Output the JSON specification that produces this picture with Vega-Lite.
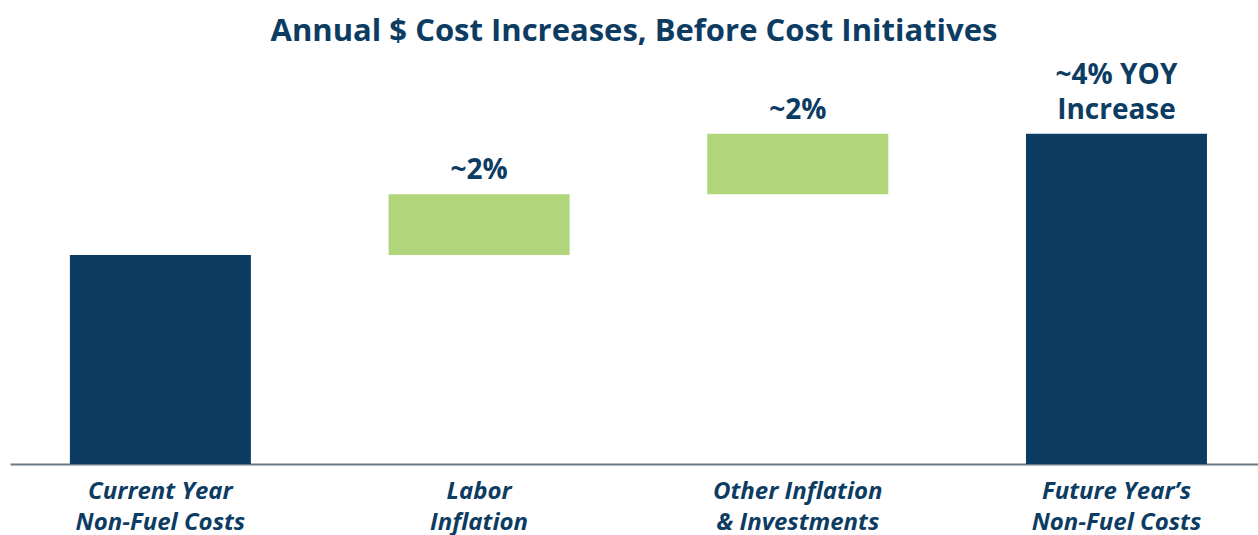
{
  "$schema": "https://vega.github.io/schema/vega-lite/v6.json",
  "width": 1248,
  "height": 414,
  "autosize": "none",
  "padding": {"left": 10, "top": 50, "right": 0, "bottom": 71},
  "background": "white",
  "title": {
    "text": "Annual $ Cost Increases, Before Cost Initiatives",
    "font": "Open Sans",
    "fontSize": 31,
    "fontWeight": "bold",
    "color": "#0d3c63",
    "anchor": "middle",
    "offset": 2
  },
  "config": {"view": {"stroke": null}},
  "data": {
    "values": [
      {"category": "Current Year|Non-Fuel Costs", "start": 0, "end": 100, "type": "total", "line1": "", "line2": ""},
      {"category": "Labor|Inflation", "start": 100, "end": 129, "type": "incr", "line1": "", "line2": "~2%"},
      {"category": "Other Inflation|& Investments", "start": 129, "end": 158, "type": "incr", "line1": "", "line2": "~2%"},
      {"category": "Future Year’s|Non-Fuel Costs", "start": 0, "end": 158, "type": "total", "line1": "~4% YOY", "line2": "Increase"}
    ]
  },
  "encoding": {
    "x": {
      "field": "category",
      "type": "nominal",
      "sort": null,
      "scale": {"paddingInner": 0.432, "paddingOuter": 0.174, "align": 0.54},
      "axis": {
        "title": null,
        "ticks": false,
        "labelAngle": 0,
        "labelExpr": "split(datum.label, '|')",
        "labelFont": "Open Sans",
        "labelFontSize": 24,
        "labelFontStyle": "italic",
        "labelFontWeight": "bold",
        "labelColor": "#0d3c63",
        "labelLineHeight": 31,
        "labelPadding": 15,
        "domainColor": "#6b7a84",
        "domainWidth": 2
      }
    }
  },
  "layer": [
    {
      "mark": {"type": "bar"},
      "encoding": {
        "y": {"field": "start", "type": "quantitative", "scale": {"domain": [0, 198], "nice": false}, "axis": null},
        "y2": {"field": "end"},
        "color": {"field": "type", "type": "nominal", "scale": {"domain": ["total", "incr"], "range": ["#0d3c63", "#b1d57b"]}, "legend": null}
      }
    },
    {
      "mark": {"type": "text", "font": "Open Sans", "fontSize": 28, "fontWeight": "bold", "color": "#0d3c63", "baseline": "alphabetic", "dy": -15},
      "encoding": {
        "y": {"field": "end", "type": "quantitative"},
        "text": {"field": "line2"}
      }
    },
    {
      "mark": {"type": "text", "font": "Open Sans", "fontSize": 28, "fontWeight": "bold", "color": "#0d3c63", "baseline": "alphabetic", "dy": -50},
      "encoding": {
        "y": {"field": "end", "type": "quantitative"},
        "text": {"field": "line1"}
      }
    }
  ]
}
